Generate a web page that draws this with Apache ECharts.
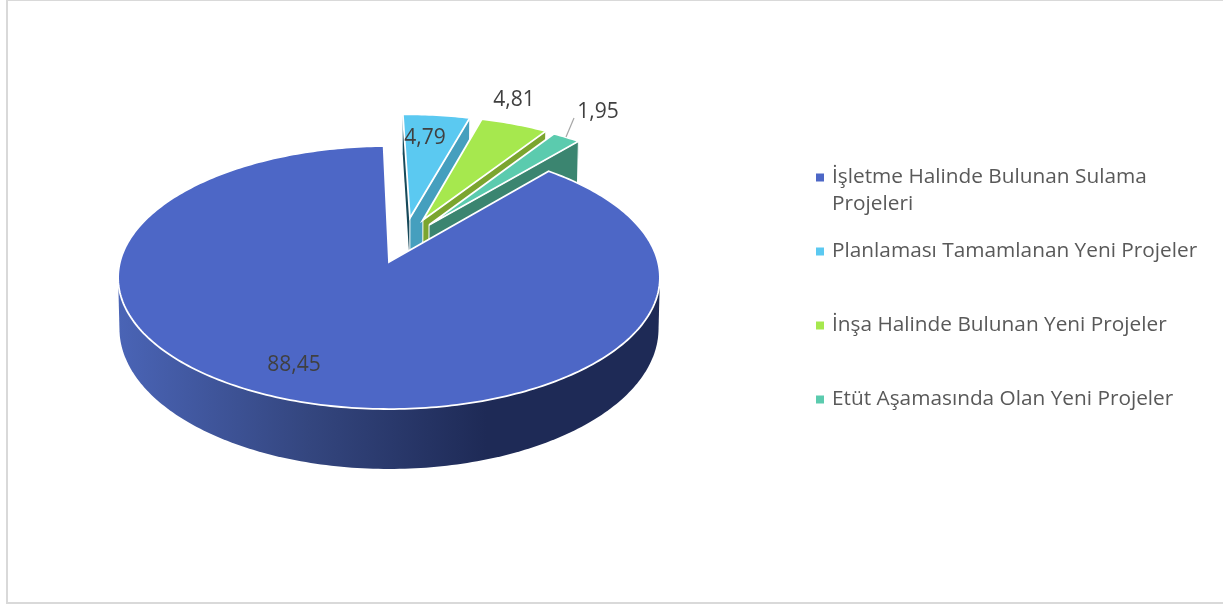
<!DOCTYPE html>
<html><head><meta charset="utf-8">
<style>html,body{margin:0;padding:0;background:#fff}#c{width:1223px;height:604px}</style>
<script src="https://cdn.jsdelivr.net/npm/echarts@6/dist/echarts.min.js"></script>
</head><body><div id="c"></div>
<script>
const categories = ['İşletme Halinde Bulunan Sulama Projeleri','Planlaması Tamamlanan Yeni Projeler','İnşa Halinde Bulunan Yeni Projeler','Etüt Aşamasında Olan Yeni Projeler'];
const values = [88.45, 4.79, 4.81, 1.95];
const topColors = ['#4D67C6','#5BC9F1','#A6E84E','#5BCBAE'];
const nearWallColors = ['#1E2A56','#459FBE','#7BA52F','#3B8570'];
const farWallColors = ['#1E2A56','#17495A','#4A6A1C','#23574A'];
const explodeX = [0, 0.081, 0.131, 0.154];
const explodeY = [0, -0.353, -0.337, -0.295];
const radii = [1, 0.962, 0.967, 0.985];
const labelPos = [[294,365],[425,138],[514,100],[598,112]];
const legendTop = [167, 241, 315, 389];

const startAngle = 40.3, CX = 389, CY = 262, K = 0.118, A = 269, B = 129.7;
const total = values.reduce((s,v)=>s+v,0);
const rimGrad = {type:'linear',x:0,y:0,x2:1,y2:0,colorStops:[{offset:0,color:'#4A64B6'},{offset:0.35,color:'#34467F'},{offset:0.68,color:'#1E2A56'},{offset:1,color:'#1E2A56'}]};

function project(X,Y){
  const w = 1-K*Y, xp = A*X/w, yp = B*Y/w;
  return {top:[CX+xp,CY+yp], bottom:[CX+xp*0.995,CY+yp*1.0674+50]};
}
function onSlice(i,deg){
  const t = deg*Math.PI/180;
  return project(explodeX[i]+radii[i]*Math.sin(t), explodeY[i]-radii[i]*Math.cos(t));
}
function hull(pts){
  const p = pts.slice().sort((a,b)=>a[0]-b[0]||a[1]-b[1]);
  const cross = (o,a,b)=>(a[0]-o[0])*(b[1]-o[1])-(a[1]-o[1])*(b[0]-o[0]);
  const build = list=>{const h=[];for(const q of list){while(h.length>1&&cross(h[h.length-2],h[h.length-1],q)<=0)h.pop();h.push(q);}h.pop();return h;};
  return build(p).concat(build(p.reverse()));
}
function renderSlice(i){
  const from = startAngle + values.slice(0,i).reduce((s,v)=>s+v,0)/total*360;
  const to = from + values[i]/total*360;
  const arc = [];
  const n = Math.max(4,Math.ceil(to-from));
  for(let j=0;j<=n;j++) arc.push(onSlice(i,from+(to-from)*j/n));
  const tip = project(explodeX[i],explodeY[i]);
  const children = [];
  const first = arc[0], last = arc[arc.length-1];
  let rimPoints = arc.map(p=>p.top).concat(arc.slice().reverse().map(p=>p.bottom));
  if(i===0){
    const front = [];
    for(let d=95;d<=265;d++){const p=onSlice(0,d);front.push(p.top,p.bottom);}
    rimPoints = hull(front);
  }
  children.push({type:'polygon',shape:{points:rimPoints},style:{fill:i===0?rimGrad:nearWallColors[i]}});
  if(i>0){
    children.push({type:'polygon',shape:{points:[tip.top,first.top,first.bottom,tip.bottom]},style:{fill:farWallColors[i]}});
    children.push({type:'polygon',shape:{points:[tip.top,last.top,last.bottom,tip.bottom]},style:{fill:nearWallColors[i],stroke:'#fff',lineWidth:1}});
  }
  children.push({type:'polygon',shape:{points:[tip.top].concat(arc.map(p=>p.top))},style:{fill:topColors[i],stroke:'#fff',lineWidth:1.8,lineJoin:'miter'}});
  if(i===3){
    children.push({type:'line',shape:{x1:574,y1:118,x2:566,y2:137},style:{stroke:'#A6A6A6',lineWidth:1.2}});
  }
  children.push({type:'text',style:{x:labelPos[i][0],y:labelPos[i][1],text:String(values[i]).replace('.',','),
    fill:'#404040',font:'21px "Open Sans"',textAlign:'center',textVerticalAlign:'middle'},z2:10});
  return {type:'group',children};
}
const series = categories.map((name,i)=>({
  type:'custom',name,coordinateSystem:'none',z:i===0?6:i+1,silent:true,
  data:[[values[i]]],itemStyle:{color:topColors[i]},
  renderItem:()=>renderSlice(i)
}));
const legends = categories.map((name,i)=>({
  data:[name],left:816,top:legendTop[i],orient:'vertical',padding:0,itemWidth:8,itemHeight:8,icon:'rect',selectedMode:false,
  formatter:n=>n.replace(' Projeleri',''),
  textStyle:{fontFamily:'Open Sans',fontSize:20.8,color:'#595959',padding:[0,0,0,3]}
}));
const chart = echarts.init(document.getElementById('c'),null,{renderer:'canvas'});
chart.setOption({
  animation:false,backgroundColor:'#fff',
  legend:legends,series,
  graphic:[
    {type:'rect',shape:{x:7,y:0,width:1300,height:603},style:{fill:'none',stroke:'#D9D9D9',lineWidth:2},z:-1},
    {type:'text',left:832,top:194,style:{text:'Projeleri',fill:'#595959',font:'20.8px "Open Sans"'}}
  ]
});
</script></body></html>
